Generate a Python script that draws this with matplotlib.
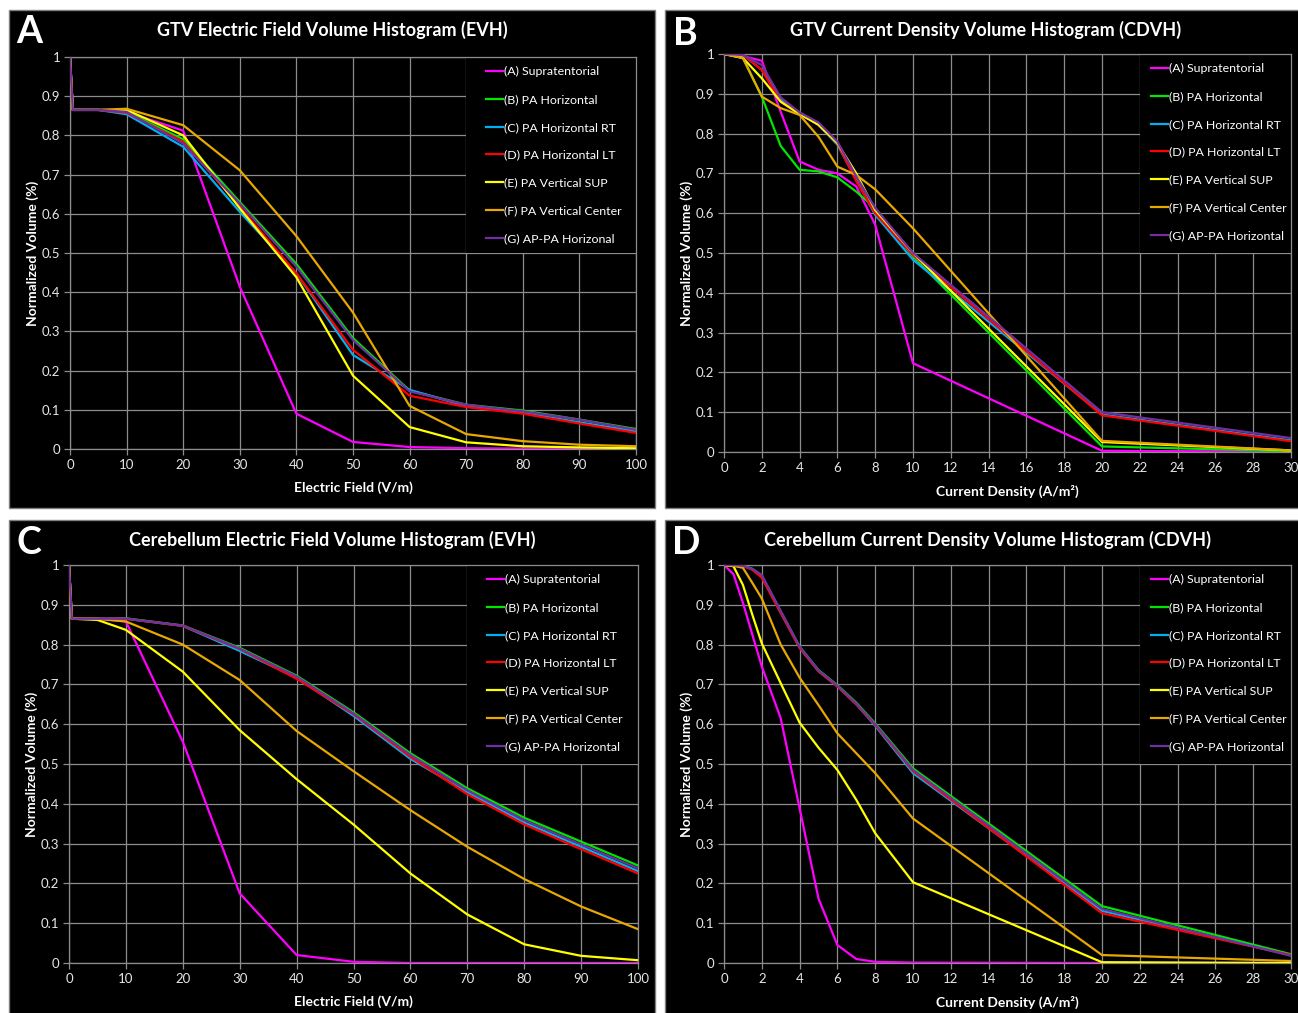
import numpy as np
import matplotlib
matplotlib.use("Agg")
import matplotlib.pyplot as plt
from matplotlib.patches import Rectangle

plt.rcParams['font.family'] = ['Lato', 'DejaVu Sans']

# series names and colours (same for all four panels)
series_names = ['(A) Supratentorial', '(B) PA Horizontal', '(C) PA Horizontal RT',
                '(D) PA Horizontal LT', '(E) PA Vertical SUP', '(F) PA Vertical Center',
                '(G) AP-PA Horizonal']
series_names_low = series_names[:6] + ['(G) AP-PA Horizontal']
colors = ['#FF00FF', '#00E600', '#00B0F0', '#FF0000', '#FFFF00', '#E8A800', '#7030A0']

# --- A: GTV electric field ---
ef_x = [0, 0.5, 5, 10, 20, 30, 40, 50, 60, 70, 80, 90, 100]
gtv_ef = [
    [1, 0.865, 0.865, 0.860, 0.812, 0.414, 0.090, 0.018, 0.005, 0.002, 0.001, 0, 0],
    [1, 0.865, 0.865, 0.860, 0.790, 0.630, 0.472, 0.283, 0.149, 0.113, 0.098, 0.075, 0.051],
    [1, 0.865, 0.865, 0.854, 0.771, 0.605, 0.448, 0.240, 0.151, 0.109, 0.092, 0.068, 0.045],
    [1, 0.865, 0.865, 0.858, 0.784, 0.618, 0.448, 0.253, 0.136, 0.107, 0.090, 0.065, 0.041],
    [1, 0.865, 0.865, 0.865, 0.800, 0.614, 0.438, 0.187, 0.056, 0.017, 0.007, 0.004, 0.002],
    [1, 0.865, 0.865, 0.868, 0.826, 0.711, 0.543, 0.348, 0.110, 0.038, 0.020, 0.011, 0.007],
    [1, 0.865, 0.865, 0.860, 0.779, 0.626, 0.465, 0.278, 0.147, 0.113, 0.096, 0.075, 0.049],
]

# --- B: GTV current density ---
gtv_cd_x = [0, 1, 2, 3, 4, 5, 6, 7, 8, 10, 20, 30]
gtv_cd = [
    [1, 0.995, 0.983, 0.855, 0.730, 0.709, 0.700, 0.667, 0.571, 0.223, 0.003, 0.001],
    [1, 0.990, 0.893, 0.769, 0.709, 0.705, 0.690, 0.654, 0.613, 0.491, 0.014, 0.002],
    [1, 0.998, 0.960, 0.885, 0.853, 0.822, 0.772, 0.684, 0.596, 0.483, 0.094, 0.029],
    [1, 0.998, 0.960, 0.880, 0.853, 0.822, 0.775, 0.680, 0.600, 0.495, 0.092, 0.027],
    [1, 0.990, 0.939, 0.880, 0.849, 0.822, 0.776, 0.700, 0.608, 0.500, 0.025, 0.004],
    [1, 0.990, 0.893, 0.864, 0.847, 0.792, 0.717, 0.696, 0.660, 0.562, 0.028, 0.004],
    [1, 0.998, 0.972, 0.891, 0.853, 0.828, 0.780, 0.692, 0.613, 0.500, 0.100, 0.035],
]

# --- C: cerebellum electric field ---
cb_ef = [
    [1, 0.865, 0.865, 0.858, 0.556, 0.175, 0.020, 0.003, 0, 0, 0, 0, 0],
    [1, 0.865, 0.865, 0.866, 0.848, 0.792, 0.722, 0.630, 0.527, 0.439, 0.365, 0.305, 0.245],
    [1, 0.865, 0.865, 0.865, 0.847, 0.784, 0.717, 0.621, 0.513, 0.429, 0.353, 0.292, 0.231],
    [1, 0.865, 0.865, 0.865, 0.847, 0.789, 0.714, 0.625, 0.518, 0.424, 0.348, 0.286, 0.225],
    [1, 0.865, 0.862, 0.837, 0.732, 0.585, 0.462, 0.348, 0.225, 0.122, 0.047, 0.018, 0.007],
    [1, 0.865, 0.865, 0.858, 0.800, 0.711, 0.583, 0.482, 0.384, 0.292, 0.211, 0.142, 0.085],
    [1, 0.865, 0.865, 0.865, 0.848, 0.790, 0.720, 0.627, 0.523, 0.434, 0.359, 0.298, 0.238],
]

# --- D: cerebellum current density ---
cb_cd_x = [0, 0.5, 1, 1.5, 2, 3, 4, 5, 6, 7, 8, 10, 20, 30]
cb_cd = [
    [1, 0.977, 0.905, 0.825, 0.745, 0.615, 0.389, 0.162, 0.045, 0.010, 0.003, 0.001, 0, 0],
    [1, 1, 0.998, 0.990, 0.973, 0.883, 0.795, 0.736, 0.698, 0.654, 0.602, 0.489, 0.143, 0.022],
    [1, 1, 0.998, 0.990, 0.970, 0.880, 0.792, 0.733, 0.695, 0.650, 0.596, 0.477, 0.131, 0.020],
    [1, 1, 0.998, 0.988, 0.968, 0.880, 0.792, 0.733, 0.695, 0.650, 0.598, 0.482, 0.125, 0.020],
    [1, 0.997, 0.950, 0.875, 0.803, 0.703, 0.604, 0.541, 0.485, 0.410, 0.326, 0.203, 0.002, 0],
    [1, 0.998, 0.993, 0.955, 0.916, 0.800, 0.717, 0.648, 0.577, 0.527, 0.477, 0.363, 0.020, 0.005],
    [1, 1, 0.998, 0.990, 0.975, 0.885, 0.795, 0.735, 0.697, 0.652, 0.600, 0.485, 0.136, 0.018],
]

W, H = 1298, 1013
fig = plt.figure(figsize=(W / 100, H / 100), dpi=100, facecolor='white')


def box(x0, y0, x1, y1):
    # pixel box (top-left origin) -> figure fraction rect
    return [x0 / W, 1 - y1 / H, (x1 - x0) / W, (y1 - y0) / H]


def fxy(x, y):
    return x / W, 1 - y / H


panels = [
    dict(letter='A', title='GTV Electric Field Volume Histogram (EVH)', x=ef_x, ys=gtv_ef,
         names=series_names, xlabel='Electric Field (V/m)', xmax=100, xstep=10,
         bg=(9, 10, 655, 508), ax=(70, 57, 636, 449), leg_left=0.7, leg_x=0.718,
         title_xy=(332, 30), letter_xy=(29, 32)),
    dict(letter='B', title='GTV Current Density Volume Histogram (CDVH)', x=gtv_cd_x, ys=gtv_cd,
         names=series_names_low, xlabel='Current Density (A/m\u00b2)', xmax=30, xstep=2,
         bg=(665, 10, 1305, 508), ax=(724, 54, 1291, 452), leg_left=22 / 30, leg_x=0.736,
         title_xy=(986, 30), letter_xy=(685, 34)),
    dict(letter='C', title='Cerebellum Electric Field Volume Histogram (EVH)', x=ef_x, ys=cb_ef,
         names=series_names_low, xlabel='Electric Field (V/m)', xmax=100, xstep=10,
         bg=(9, 520, 655, 1020), ax=(69, 565, 638, 963), leg_left=0.7, leg_x=0.718,
         title_xy=(332, 540), letter_xy=(29, 543)),
    dict(letter='D', title='Cerebellum Current Density Volume Histogram (CDVH)', x=cb_cd_x, ys=cb_cd,
         names=series_names_low, xlabel='Current Density (A/m\u00b2)', xmax=30, xstep=2,
         bg=(665, 520, 1305, 1020), ax=(724, 565, 1291, 963), leg_left=22 / 30, leg_x=0.736,
         title_xy=(988, 540), letter_xy=(686, 543)),
]

grid_c = '#8C8C8C'
tick_c = '#E6E6E6'

for p in panels:
    x0, y0, x1, y1 = p['bg']
    fig.patches.append(Rectangle((x0 / W, 1 - y1 / H), (x1 - x0) / W, (y1 - y0) / H,
                                 transform=fig.transFigure, facecolor='black',
                                 edgecolor='#7F7F7F', linewidth=1, zorder=0))

    ax = fig.add_axes(box(*p['ax']))
    ax.set_zorder(1)
    ax.set_facecolor('black')
    for i, yv in enumerate(p['ys']):
        ax.plot(p['x'], yv, color=colors[i], linewidth=1.6, label=p['names'][i],
                solid_joinstyle='round', zorder=3)

    ax.set_xlim(0, p['xmax'])
    ax.set_ylim(0, 1)
    ax.set_xticks(np.arange(0, p['xmax'] + 1, p['xstep']))
    yt = np.round(np.arange(0, 1.01, 0.1), 1)
    ax.set_yticks(yt)
    ax.set_yticklabels(['0' if v == 0 else ('1' if v == 1 else f'{v:g}') for v in yt])
    ax.grid(True, color=grid_c, linewidth=0.9)
    for s in ax.spines.values():
        s.set_color(grid_c)
        s.set_linewidth(0.9)
    ax.tick_params(colors=grid_c, labelcolor=tick_c, labelsize=9.5, length=4, width=0.9, pad=3)

    # black box behind legend hides the grid there
    ax.add_patch(Rectangle((p['leg_left'], 0.5), 1 - p['leg_left'], 0.5, transform=ax.transAxes,
                           facecolor='black', edgecolor='none', zorder=2))
    leg = ax.legend(loc='upper left', bbox_to_anchor=(p['leg_x'], 1.0), frameon=False,
                    fontsize=8.9, labelcolor='white', handlelength=1.4, handletextpad=0.1,
                    labelspacing=1.36, borderaxespad=0.3, borderpad=0.45)
    leg.set_zorder(5)

    ax.set_xlabel(p['xlabel'], color='white', fontsize=10, fontweight='bold')
    ax.set_ylabel('Normalized Volume (%)', color='white', fontsize=10, fontweight='bold')
    ax.xaxis.set_label_coords(0.5, -0.082)
    ax.yaxis.set_label_coords(-0.055, 0.5)

    fig.text(*fxy(*p['title_xy']), p['title'], color='white', fontsize=13, fontweight='bold',
             ha='center', va='center')
    fig.text(*fxy(*p['letter_xy']), p['letter'], color='white', fontsize=27, fontweight='bold',
             ha='center', va='center')

fig.savefig('out.png', dpi=100, facecolor='white')
